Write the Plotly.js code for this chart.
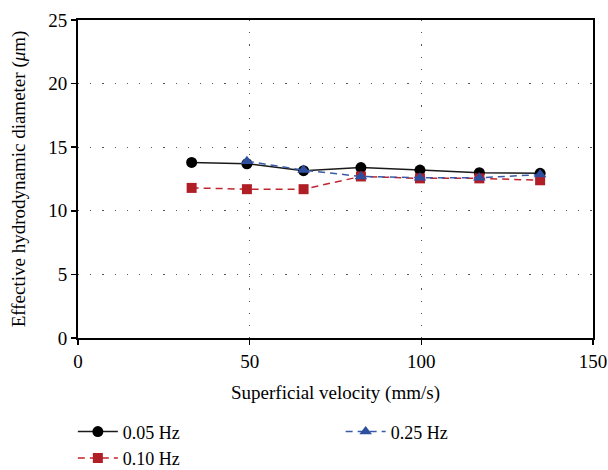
<!DOCTYPE html>
<html><head><meta charset="utf-8">
<script src="https://cdn.plot.ly/plotly-3.0.1.min.js"></script>
<style>body{margin:0;padding:0;background:#fff}#chart{width:608px;height:470px}</style>
</head><body><div id="chart"></div>
<script>
const velocity = [33.1, 49.2, 65.7, 82.4, 99.6, 116.9, 134.6];
const velocity025 = [49.2, 65.7, 82.4, 99.6, 116.9, 134.6];
const d005 = [13.8, 13.7, 13.15, 13.4, 13.2, 13.0, 12.95];
const d010 = [11.8, 11.7, 11.7, 12.7, 12.55, 12.55, 12.4];
const d025 = [13.9, 13.2, 12.7, 12.6, 12.6, 12.85];
const names = ['0.05 Hz', '0.10 Hz', '0.25 Hz'];
const xTicks = [0, 50, 100, 150];
const yTicks = [0, 5, 10, 15, 20, 25];

const fontFam = '"Liberation Serif", "DejaVu Serif", serif';
const traces = [
  {x: velocity, y: d005, name: names[0], mode: 'lines+markers', legend: 'legend',
   line: {color: '#1a1a1a', width: 1.5}, marker: {symbol: 'circle', size: 11, color: '#000'}},
  {x: velocity, y: d010, name: names[1], mode: 'lines+markers', legend: 'legend',
   line: {color: '#c0262d', width: 1.5, dash: '7px,5px'}, marker: {symbol: 'square', size: 10, color: '#b01f26'}},
  {x: velocity025, y: d025, name: names[2], mode: 'lines+markers', legend: 'legend2',
   line: {color: '#3a5aa8', width: 1.5, dash: '7px,5px'}, marker: {symbol: 'triangle-up', size: 11, color: '#2d4f9e'}}
];
const gridDash = '1.2px,11px';
const layout = {
  width: 608, height: 470,
  margin: {l: 78, r: 15, t: 20, b: 132, autoexpand: false},
  paper_bgcolor: '#fff', plot_bgcolor: '#fff',
  font: {family: fontFam, size: 19, color: '#000'},
  showlegend: true,
  xaxis: {range: [0, 150], tickvals: xTicks, ticktext: xTicks.map(String),
    showline: true, linecolor: '#000', linewidth: 2, mirror: true,
    ticks: 'outside', ticklen: 5, tickcolor: '#000', tickwidth: 1.5,
    showgrid: true, gridcolor: '#555', gridwidth: 1.2, griddash: gridDash,
    zeroline: false, tickfont: {size: 19}, automargin: false,
    title: {text: 'Superficial velocity (mm/s)', font: {size: 19}, standoff: 15}},
  yaxis: {range: [0, 25], tickvals: yTicks, ticktext: yTicks.map(String),
    showline: true, linecolor: '#000', linewidth: 2, mirror: true,
    ticks: 'outside', ticklen: 5, tickcolor: '#000', tickwidth: 1.5,
    showgrid: true, gridcolor: '#555', gridwidth: 1.2, griddash: gridDash,
    zeroline: false, tickfont: {size: 19}, automargin: false,
    title: {text: 'Effective hydrodynamic diameter (<i>μ</i>m)', font: {size: 19}, standoff: 18}},
  legend: {x: -0.01, y: -0.237, xanchor: 'left', yanchor: 'top', orientation: 'v',
    font: {size: 18}, bgcolor: 'rgba(0,0,0,0)', tracegroupgap: 0, itemwidth: 40},
  legend2: {x: 0.51, y: -0.237, xanchor: 'left', yanchor: 'top', orientation: 'v',
    font: {size: 18}, bgcolor: 'rgba(0,0,0,0)', itemwidth: 40}
};
Plotly.newPlot('chart', traces, layout, {displayModeBar: false, staticPlot: true});
</script></body></html>
